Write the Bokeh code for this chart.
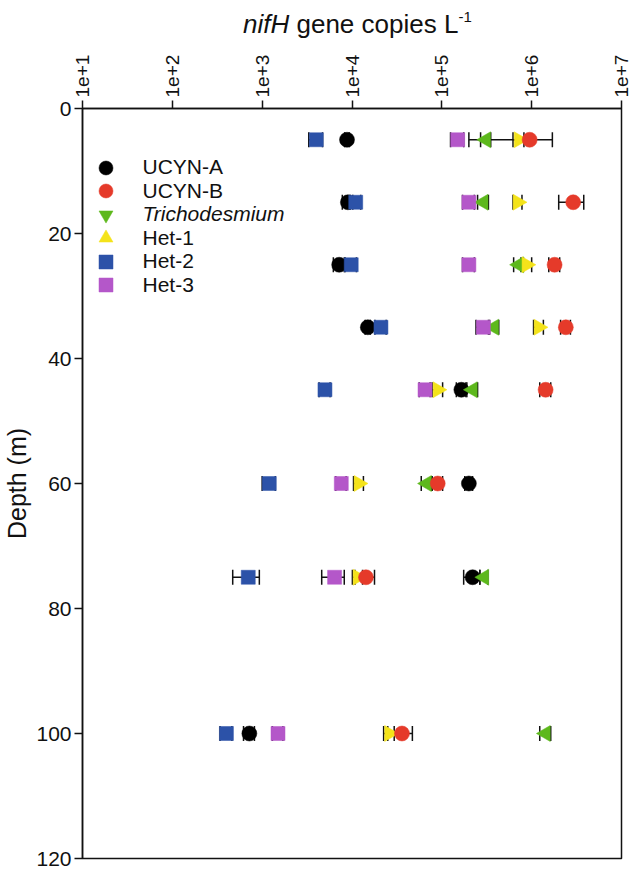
import math
from bokeh.plotting import figure
from bokeh.layouts import column
from bokeh.models import (Range1d, FixedTicker, ColumnDataSource, Whisker, TeeHead,
                          Legend, LegendItem, Div)
from bokeh.embed import file_html
from bokeh.resources import INLINE

# ---------------- data ----------------
depths = [5, 15, 25, 35, 45, 60, 75, 100]

ucyn_a = [8.8e3, 9.0e3, 7.2e3, 1.5e4, 1.65e5, 2.0e5, 2.2e5, 720]
ucyn_a_err = [0.5e3, 1.2e3, 1.0e3, 0.1e4, 0.2e5, 0.2e5, 0.45e5, 100]

ucyn_b = [9.5e5, 2.9e6, 1.8e6, 2.4e6, 1.43e6, 9.0e4, 1.43e4, 3.6e4]
ucyn_b_err = [7.5e5, 0.9e6, 0.25e6, 0.3e6, 0.2e6, 1.2e4, 0.35e4, 1.1e4]

tricho = [3.1e5, 2.9e5, 7.2e5, 3.8e5, 2.2e5, 6.8e4, 2.95e5, 1.43e6]
tricho_err = [0.4e5, 0.4e5, 0.9e5, 0.5e5, 0.3e5, 0.9e4, 0.3e5, 0.2e6]

het1 = [7.2e5, 7.0e5, 8.8e5, 1.2e6, 9.0e4, 1.19e4, 1.16e4, 2.6e4]
het1_err = [1.0e5, 0.8e5, 1.2e5, 0.15e6, 1.2e4, 0.15e4, 0.15e4, 0.35e4]

het2 = [4.0e3, 1.1e4, 9.8e3, 2.1e4, 5.0e3, 1.2e3, 700, 400]
het2_err = [0.7e3, 0.15e4, 1.4e3, 0.3e4, 0.7e3, 0.2e3, 230, 60]

het3 = [1.5e5, 2.0e5, 2.0e5, 2.9e5, 6.5e4, 7.6e3, 6.4e3, 1.5e3]
het3_err = [0.25e5, 0.3e5, 0.3e5, 0.5e5, 0.9e4, 1.0e3, 1.8e3, 0.2e3]

x_tick_values = [1e1, 1e2, 1e3, 1e4, 1e5, 1e6, 1e7]
x_tick_labels = ["1e+1", "1e+2", "1e+3", "1e+4", "1e+5", "1e+6", "1e+7"]
y_tick_values = [0, 20, 40, 60, 80, 100, 120]

title_parts = ["nifH", " gene copies L", "-1"]

FONT = "Liberation Sans"
INK = "#111111"

series = {
    "UCYN-A": dict(vals=ucyn_a, err=ucyn_a_err, marker="circle", color="#000000", size=15, angle=0.0),
    "UCYN-B": dict(vals=ucyn_b, err=ucyn_b_err, marker="circle", color="#E53A2A", size=15, angle=0.0),
    "Trichodesmium": dict(vals=tricho, err=tricho_err, marker="inverted_triangle", color="#5DB81C", size=16, angle=-math.pi / 2),
    "Het-1": dict(vals=het1, err=het1_err, marker="triangle", color="#F4E31A", size=16, angle=-math.pi / 2),
    "Het-2": dict(vals=het2, err=het2_err, marker="square", color="#2C52A8", size=14, angle=0.0),
    "Het-3": dict(vals=het3, err=het3_err, marker="square", color="#B457C9", size=14, angle=0.0),
}

# page geometry (pixels)
W, H = 633, 871
TITLE_H = 45
F_LEFT, F_RIGHT, F_TOP, F_BOTTOM = 83, 621, 108, 858   # frame edges on the page
X0, X1 = 1e1, 1e7
Y0, Y1 = 0, 120

# ---------------- title strip (HTML text) ----------------
title_html = (
    f'<div style="padding-left:243px; padding-top:11px; line-height:1; white-space:nowrap; '
    f'font-family:\'{FONT}\'; font-size:26px; color:{INK};">'
    f'<i>{title_parts[0]}</i>{title_parts[1]}'
    f'<span style="font-size:15px; position:relative; top:-11px;">{title_parts[2]}</span>'
    f'</div>'
)
title = Div(text=title_html, width=W, height=TITLE_H, margin=0)

# ---------------- main plot ----------------
p = figure(width=W, height=H - TITLE_H, x_axis_type="log", x_axis_location="above",
           x_range=Range1d(X0, X1), y_range=Range1d(Y1, Y0),
           output_backend="svg", toolbar_location=None,
           min_border_left=10, min_border_right=W - F_RIGHT,
           min_border_top=F_TOP - TITLE_H, min_border_bottom=H - F_BOTTOM)
p.background_fill_color = "white"
p.border_fill_color = "white"
p.outline_line_color = INK
p.outline_line_width = 1.5
p.xgrid.visible = False
p.ygrid.visible = False

# x axis (top)
xa = p.xaxis[0]
xa.ticker = FixedTicker(ticks=x_tick_values, minor_ticks=[])
xa.major_label_overrides = {v: l for v, l in zip(x_tick_values, x_tick_labels)}
xa.major_label_orientation = "vertical"
xa.major_label_text_font = FONT
xa.major_label_text_font_size = "19px"
xa.major_label_text_color = INK
xa.major_label_standoff = 3
xa.major_tick_out = 8
xa.major_tick_in = 0
xa.minor_tick_out = 0
xa.minor_tick_in = 0
xa.axis_line_color = INK
xa.axis_line_width = 1.5
xa.major_tick_line_width = 1.5
xa.major_tick_line_color = INK

# y axis
ya = p.yaxis[0]
ya.ticker = FixedTicker(ticks=y_tick_values, minor_ticks=[])
ya.major_label_text_font = FONT
ya.major_label_text_font_size = "21px"
ya.major_label_text_color = INK
ya.major_label_standoff = 3
ya.major_tick_out = 8
ya.major_tick_in = 0
ya.minor_tick_out = 0
ya.minor_tick_in = 0
ya.axis_line_color = INK
ya.axis_line_width = 1.5
ya.major_tick_line_width = 1.5
ya.major_tick_line_color = INK
ya.axis_label = "Depth (m)"
ya.axis_label_text_font = FONT
ya.axis_label_text_font_size = "25px"
ya.axis_label_text_font_style = "normal"
ya.axis_label_text_color = INK
ya.axis_label_standoff = 2

# error bars
for name, s in series.items():
    lo = [v - e for v, e in zip(s["vals"], s["err"])]
    hi = [v + e for v, e in zip(s["vals"], s["err"])]
    src = ColumnDataSource(dict(y=depths, lo=lo, hi=hi))
    w = Whisker(source=src, base="y", lower="lo", upper="hi", dimension="width",
                line_color=INK, line_width=1.5, level="underlay",
                upper_head=TeeHead(size=15, line_color=INK, line_width=1.5),
                lower_head=TeeHead(size=15, line_color=INK, line_width=1.5))
    p.add_layout(w)

# markers (draw order)
renderers = {}
for name in ["UCYN-A", "Trichodesmium", "Het-1", "UCYN-B", "Het-3", "Het-2"]:
    s = series[name]
    src = ColumnDataSource(dict(x=s["vals"], y=depths))
    r = p.scatter(x="x", y="y", source=src, marker=s["marker"], size=s["size"],
                  fill_color=s["color"], line_color=s["color"], line_width=0.5,
                  angle=s["angle"])
    renderers[name] = r

# legend: one block per row (so Trichodesmium can be italic and rows can be tight)
legend_order = ["UCYN-A", "UCYN-B", "Trichodesmium", "Het-1", "Het-2", "Het-3"]
row_centers = [167, 190.5, 214, 237.5, 261, 284.5]   # page px
GLYPH = 35
for name, cy in zip(legend_order, row_centers):
    lg = Legend(items=[LegendItem(label=name, renderers=[renderers[name]])],
                location=(106 - GLYPH / 2 - F_LEFT, F_BOTTOM - (cy + GLYPH / 2)),
                orientation="vertical",
                glyph_width=GLYPH, glyph_height=GLYPH, label_height=GLYPH,
                padding=0, margin=0, label_standoff=20,
                label_text_font=FONT, label_text_font_size="21px",
                label_text_color=INK,
                label_text_font_style="italic" if name == "Trichodesmium" else "normal",
                background_fill_alpha=0, border_line_alpha=0)
    p.add_layout(lg)

layout = column(title, p, spacing=0)
open("out.html", "w").write(file_html(layout, INLINE))
